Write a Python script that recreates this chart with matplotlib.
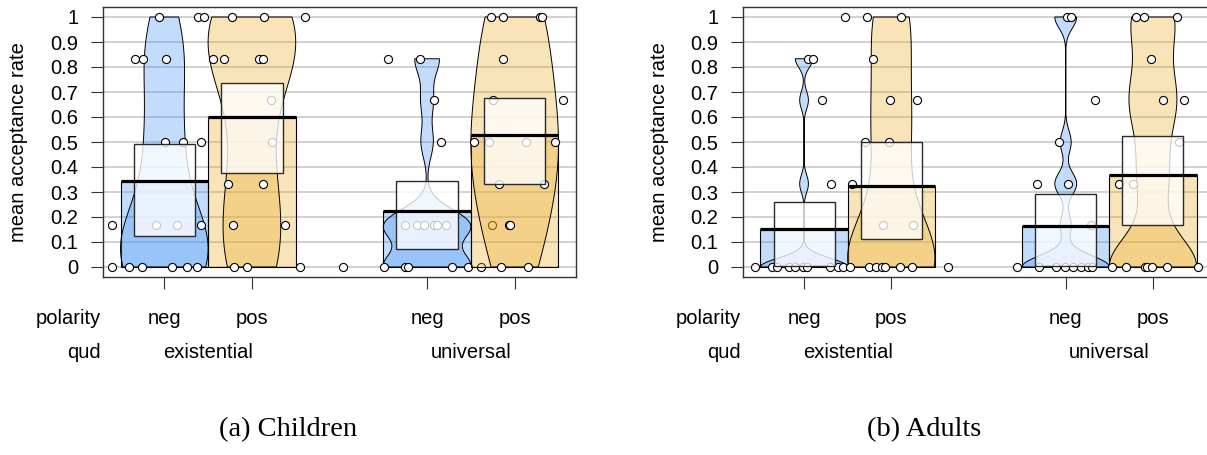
import numpy as np
import matplotlib
matplotlib.use("Agg")
import matplotlib.pyplot as plt
from matplotlib.patches import Rectangle, Polygon
from matplotlib.colors import to_rgba
from matplotlib.transforms import blended_transform_factory

plt.rcParams['font.family'] = ['Liberation Sans', 'DejaVu Sans']

# bean layout: existential neg/pos, universal neg/pos
positions = [1, 2, 4, 5]
polarity = ["neg", "pos", "neg", "pos"]
qud = ["existential", "universal"]
qud_pos = [1.5, 4.5]
y_ticks = [0, 0.1, 0.2, 0.3, 0.4, 0.5, 0.6, 0.7, 0.8, 0.9, 1]
y_tick_labels = ["0", "0.1", "0.2", "0.3", "0.4", "0.5", "0.6", "0.7", "0.8", "0.9", "1"]

# children: means and inference bands
child_means = [0.343, 0.602, 0.223, 0.527]
child_inf_lo = [0.124, 0.376, 0.072, 0.333]
child_inf_hi = [0.494, 0.738, 0.344, 0.676]

# children: per-participant rates and their horizontal jitter
child_vals = [
    [1, 0.833, 0.833, 0.833, 0.5, 0.5, 0.5, 0.167, 0.167, 0.167, 0.167, 0, 0, 0, 0, 0, 0],
    [1, 1, 1, 1, 1, 0.833, 0.833, 0.833, 0.833, 0.667, 0.5, 0.333, 0.333, 0.167, 0.167, 0, 0, 0],
    [0.833, 0.833, 0.667, 0.5, 0.167, 0.167, 0.167, 0.167, 0.167, 0.167, 0.167, 0, 0, 0, 0, 0, 0, 0],
    [1, 1, 1, 1, 0.833, 0.667, 0.667, 0.5, 0.5, 0.5, 0.5, 0.333, 0.333, 0.167, 0.167, 0, 0],
]
child_jit = [
    [-0.06, -0.33, -0.24, 0.02, 0.01, 0.21, 0.42, -0.60, -0.10, 0.15, 0.42, -0.60, -0.40, -0.25, 0.09, 0.26, 0.37],
    [-0.62, -0.55, -0.23, 0.14, 0.61, -0.44, -0.32, 0.08, 0.13, 0.22, 0.23, -0.27, 0.13, -0.22, 0.38, -0.21, -0.06, 0.55],
    [-0.45, -0.08, 0.08, 0.16, -0.25, -0.11, -0.03, 0.08, 0.11, 0.22, 0.74, -0.96, -0.49, -0.25, -0.22, 0.29, 0.47, 0.61],
    [-0.27, -0.13, 0.29, 0.31, -0.13, -0.25, 0.55, -0.46, -0.29, 0.13, 0.46, -0.18, 0.33, -0.06, -0.05, -0.16, 0.15],
]
child_bw = [0.18, 0.2, 0.063, 0.24]

# adults
adult_means = [0.151, 0.324, 0.166, 0.367]
adult_inf_lo = [0.005, 0.113, 0.004, 0.169]
adult_inf_hi = [0.261, 0.500, 0.293, 0.526]

adult_vals = [
    [0.833, 0.833, 0.667, 0.333, 0, 0, 0, 0, 0, 0, 0, 0, 0, 0],
    [1, 1, 1, 0.833, 0.667, 0.667, 0.5, 0.5, 0.333, 0.167, 0.167, 0, 0, 0, 0, 0, 0, 0, 0],
    [1, 1, 0.5, 0.333, 0.333, 0.167, 0, 0, 0, 0, 0, 0, 0, 0],
    [1, 1, 1, 0.833, 0.667, 0.667, 0.667, 0.5, 0.333, 0.333, 0, 0, 0, 0, 0, 0, 0],
]
adult_jit = [
    [0.05, 0.10, 0.21, 0.31, -0.56, -0.37, -0.31, -0.17, -0.10, -0.01, 0.03, 0.30, 0.39, 0.45],
    [-0.53, -0.28, 0.11, -0.21, -0.01, 0.29, -0.30, -0.03, -0.45, -0.09, 0.25, -0.47, -0.25, -0.18, -0.11, -0.07, 0.10, 0.24, 0.65],
    [0.02, 0.06, -0.08, -0.33, 0.03, 0.29, -0.56, -0.31, -0.11, -0.01, 0.08, 0.18, 0.25, 0.30],
    [-0.19, -0.10, 0.28, -0.02, -0.66, 0.11, 0.36, 0.30, -0.39, -0.23, -0.47, -0.31, -0.09, -0.07, -0.01, 0.16, 0.52],
]
adult_bw = [0.035, 0.17, 0.045, 0.12]

bean_cols = [to_rgba((58 / 255, 142 / 255, 242 / 255), 0.30),
             to_rgba((234 / 255, 173 / 255, 40 / 255), 0.33)]
frame_col = "#333333"
fs = 14.5


def bean_outline(x, vals, bw, width=0.5):
    vals = np.asarray(vals, dtype=float)
    ys = np.linspace(vals.min(), vals.max(), 300)
    dens = np.exp(-0.5 * ((ys[:, None] - vals[None, :]) / bw) ** 2).sum(axis=1)
    half = width * dens / dens.max()
    xs = np.concatenate([x - half, (x + half)[::-1]])
    yy = np.concatenate([ys, ys[::-1]])
    return np.column_stack([xs, yy])


def draw_panel(ax, means, inf_lo, inf_hi, vals, jit, bws):
    ax.set_xlim(0.3, 5.7)
    ax.set_ylim(-0.04, 1.04)
    for y in y_ticks:
        ax.axhline(y, color="#c9c9c9", lw=1.2, zorder=0.5)

    for i, x in enumerate(positions):
        z = 10 + 10 * i
        col = bean_cols[i % 2]
        # bar of the mean
        ax.add_patch(Rectangle((x - 0.5, 0), 1, means[i], facecolor=col,
                               edgecolor="black", lw=0.8, zorder=z))
        # density bean
        ax.add_patch(Polygon(bean_outline(x, vals[i], bws[i]), closed=True,
                             facecolor=col, edgecolor="black", lw=0.7, zorder=z + 1))
        # raw data
        ax.scatter(x + np.asarray(jit[i]), vals[i], s=34, facecolor="white",
                   edgecolor="black", lw=0.8, zorder=z + 2)
        # inference band
        ax.add_patch(Rectangle((x - 0.35, inf_lo[i]), 0.7, inf_hi[i] - inf_lo[i],
                               facecolor=(1, 1, 1, 0.78), edgecolor="#2a2a2a",
                               lw=1.0, zorder=z + 3))
        # average line
        ax.plot([x - 0.5, x + 0.5], [means[i], means[i]], color="black",
                lw=2.3, solid_capstyle="butt", zorder=z + 4)

    ax.set_yticks(y_ticks)
    ax.set_yticklabels(y_tick_labels)
    ax.set_xticks(positions)
    ax.set_xticklabels([])
    ax.tick_params(direction="out", length=8.6, width=0.8, color=frame_col,
                   pad=9.0, labelsize=fs)
    for sp in ax.spines.values():
        sp.set_color(frame_col)
        sp.set_linewidth(1.0)

    trans = blended_transform_factory(ax.transData, ax.transAxes)
    for x, lab in zip(positions, polarity):
        ax.text(x, -0.152, lab, transform=trans, ha="center", va="center", fontsize=fs)
    for x, lab in zip(qud_pos, qud):
        ax.text(x, -0.281, lab, transform=trans, ha="center", va="center", fontsize=fs)
    ax.text(-0.005, -0.152, "polarity", transform=ax.transAxes, ha="right", va="center", fontsize=fs)
    ax.text(-0.005, -0.281, "qud", transform=ax.transAxes, ha="right", va="center", fontsize=fs)
    ax.text(-0.178, 0.5, "mean acceptance rate", transform=ax.transAxes, rotation=90,
            ha="center", va="center", fontsize=fs)


W, H = 1207, 455
fig = plt.figure(figsize=(W / 100, H / 100), dpi=100)


def px_box(left, top, right, bottom):
    return [left / W, 1 - bottom / H, (right - left) / W, (bottom - top) / H]


ax_child = fig.add_axes(px_box(103, 7, 576, 277))
ax_adult = fig.add_axes(px_box(743, 7, 1214, 277))

draw_panel(ax_child, child_means, child_inf_lo, child_inf_hi, child_vals, child_jit, child_bw)
draw_panel(ax_adult, adult_means, adult_inf_lo, adult_inf_hi, adult_vals, adult_jit, adult_bw)

fig.text(288 / W, 1 - 430 / H, "(a) Children", family="Liberation Serif",
         fontsize=20.5, ha="center", va="center")
fig.text(924 / W, 1 - 430 / H, "(b) Adults", family="Liberation Serif",
         fontsize=20.5, ha="center", va="center")

fig.savefig("out.png", dpi=100)
